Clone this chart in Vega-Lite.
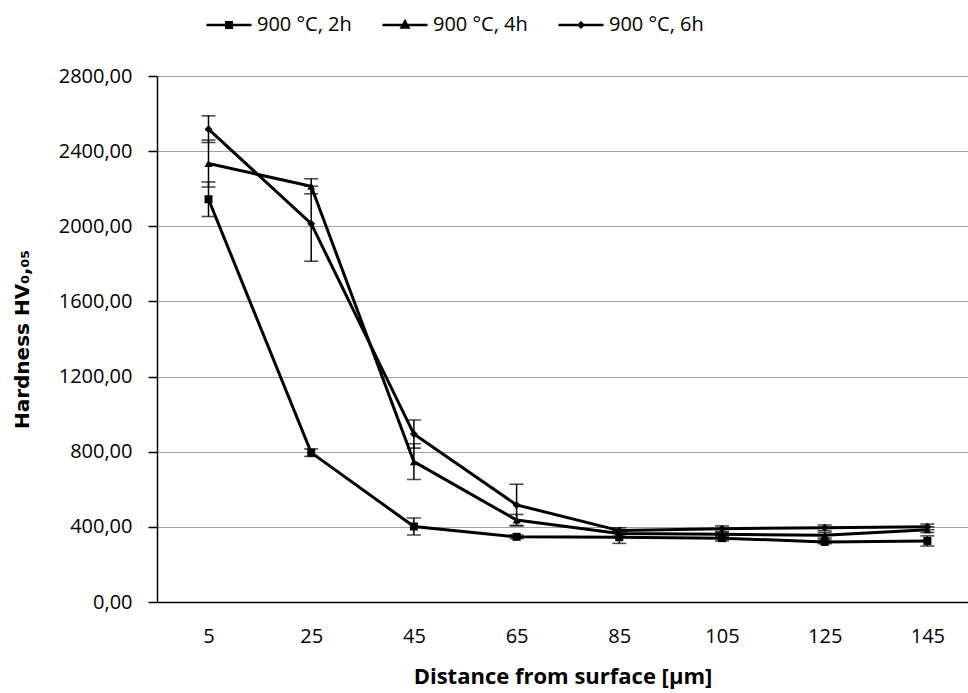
{
  "$schema": "https://vega.github.io/schema/vega-lite/v6.json",
  "width": 811,
  "height": 526,
  "autosize": {"type": "none"},
  "padding": {"left": 157, "top": 76, "right": 0, "bottom": 91},
  "background": "white",
  "config": {
    "font": "Open Sans",
    "view": {"stroke": null},
    "axis": {"labelFont": "Open Sans", "titleFont": "Open Sans", "labelColor": "#000", "titleColor": "#000"}
  },
  "data": {
    "values": [
      {"series": "900 °C, 2h", "x": "5", "y": 2144, "lo": 2052, "hi": 2236},
      {"series": "900 °C, 2h", "x": "25", "y": 795, "lo": 775, "hi": 815},
      {"series": "900 °C, 2h", "x": "45", "y": 402, "lo": 357, "hi": 447},
      {"series": "900 °C, 2h", "x": "65", "y": 347, "lo": 337, "hi": 357},
      {"series": "900 °C, 2h", "x": "85", "y": 345, "lo": 312, "hi": 378},
      {"series": "900 °C, 2h", "x": "105", "y": 340, "lo": 325, "hi": 355},
      {"series": "900 °C, 2h", "x": "125", "y": 320, "lo": 310, "hi": 330},
      {"series": "900 °C, 2h", "x": "145", "y": 325, "lo": 298, "hi": 352},
      {"series": "900 °C, 4h", "x": "5", "y": 2334, "lo": 2209, "hi": 2459},
      {"series": "900 °C, 4h", "x": "25", "y": 2213, "lo": 2173, "hi": 2253},
      {"series": "900 °C, 4h", "x": "45", "y": 747, "lo": 652, "hi": 842},
      {"series": "900 °C, 4h", "x": "65", "y": 436, "lo": 406, "hi": 466},
      {"series": "900 °C, 4h", "x": "85", "y": 365, "lo": 350, "hi": 380},
      {"series": "900 °C, 4h", "x": "105", "y": 360, "lo": 350, "hi": 370},
      {"series": "900 °C, 4h", "x": "125", "y": 355, "lo": 340, "hi": 370},
      {"series": "900 °C, 4h", "x": "145", "y": 385, "lo": 370, "hi": 400},
      {"series": "900 °C, 6h", "x": "5", "y": 2517, "lo": 2446, "hi": 2588},
      {"series": "900 °C, 6h", "x": "25", "y": 2014, "lo": 1814, "hi": 2214},
      {"series": "900 °C, 6h", "x": "45", "y": 894, "lo": 819, "hi": 969},
      {"series": "900 °C, 6h", "x": "65", "y": 517, "lo": 407, "hi": 627},
      {"series": "900 °C, 6h", "x": "85", "y": 380, "lo": 365, "hi": 395},
      {"series": "900 °C, 6h", "x": "105", "y": 390, "lo": 375, "hi": 405},
      {"series": "900 °C, 6h", "x": "125", "y": 395, "lo": 380, "hi": 410},
      {"series": "900 °C, 6h", "x": "145", "y": 400, "lo": 385, "hi": 415}
    ]
  },
  "encoding": {
    "x": {
      "field": "x",
      "type": "ordinal",
      "sort": ["5", "25", "45", "65", "85", "105", "125", "145"],
      "scale": {"type": "point", "padding": 0.4485, "align": 0.559},
      "axis": {
        "title": "Distance from surface [µm]",
        "labelAngle": 0,
        "labelFontSize": 20,
        "labelPadding": 24,
        "ticks": false,
        "domainColor": "#000",
        "domainWidth": 1.5,
        "grid": false,
        "titleFontSize": 22,
        "titleFontWeight": "bold",
        "titlePadding": 20
      }
    }
  },
  "layer": [
    {
      "mark": {"type": "rule", "color": "#000", "strokeWidth": 1.5},
      "encoding": {
        "y": {
          "field": "lo",
          "type": "quantitative",
          "scale": {"domain": [0, 2800], "nice": false},
          "axis": {
            "title": "Hardness HV₀,₀₅",
            "values": [0, 400, 800, 1200, 1600, 2000, 2400, 2800],
            "labelExpr": "replace(format(datum.value, '.2f'), '.', ',')",
            "labelFontSize": 20,
            "labelPadding": 16,
            "tickSize": 9,
            "tickColor": "#000",
            "tickWidth": 1.5,
            "domainColor": "#000",
            "domainWidth": 1.5,
            "gridColor": "#a0a0a0",
            "gridWidth": 1.2,
            "titleFont": "DejaVu Sans",
            "titleFontSize": 20,
            "titleFontWeight": "bold",
            "titlePadding": 26
          }
        },
        "y2": {"field": "hi"},
        "detail": {"field": "series"}
      }
    },
    {
      "mark": {"type": "tick", "color": "#000", "size": 14, "thickness": 1.6, "orient": "horizontal"},
      "encoding": {"y": {"field": "lo", "type": "quantitative"}, "detail": {"field": "series"}}
    },
    {
      "mark": {"type": "tick", "color": "#000", "size": 14, "thickness": 1.6, "orient": "horizontal"},
      "encoding": {"y": {"field": "hi", "type": "quantitative"}, "detail": {"field": "series"}}
    },
    {
      "mark": {"type": "line", "color": "#000", "strokeWidth": 3},
      "encoding": {"y": {"field": "y", "type": "quantitative"}, "detail": {"field": "series"}}
    },
    {
      "mark": {"type": "point", "filled": true, "color": "#000", "opacity": 1},
      "encoding": {
        "y": {"field": "y", "type": "quantitative"},
        "shape": {
          "field": "series",
          "type": "nominal",
          "scale": {"domain": ["900 °C, 2h", "900 °C, 4h", "900 °C, 6h"], "range": ["square", "triangle-up", "diamond"]},
          "legend": null
        },
        "size": {"value": 64}
      }
    },
    {
      "transform": [{"filter": "false"}],
      "mark": {"type": "point", "filled": true, "color": "#000", "opacity": 1},
      "encoding": {
        "y": {"field": "y", "type": "quantitative"},
        "shape": {
          "field": "series",
          "type": "nominal",
          "scale": {
            "domain": ["900 °C, 2h", "900 °C, 4h", "900 °C, 6h"],
            "range": [
              "M-1,0H1M-0.12,-0.12H0.12V0.12H-0.12Z",
              "M-1,0H1M0,-0.16L0.15,0.11H-0.15Z",
              "M-1,0H1M0,-0.1L0.1,0L0,0.1L-0.1,0Z"
            ]
          },
          "legend": {
            "title": null,
            "orient": "none",
            "direction": "horizontal",
            "legendX": 48,
            "legendY": -75,
            "symbolSize": 2025,
            "symbolOpacity": 1,
            "labelFontSize": 20,
            "labelFont": "Open Sans",
            "labelColor": "#000",
            "labelOffset": 4,
            "columnPadding": 25,
            "encoding": {
              "symbols": {
                "fill": {"value": "#000"},
                "stroke": {"value": "#000"},
                "strokeWidth": {"value": 2.5},
                "opacity": {"value": 1}
              }
            }
          }
        }
      }
    }
  ],
  "resolve": {"scale": {"shape": "independent"}, "legend": {"shape": "independent"}}
}
